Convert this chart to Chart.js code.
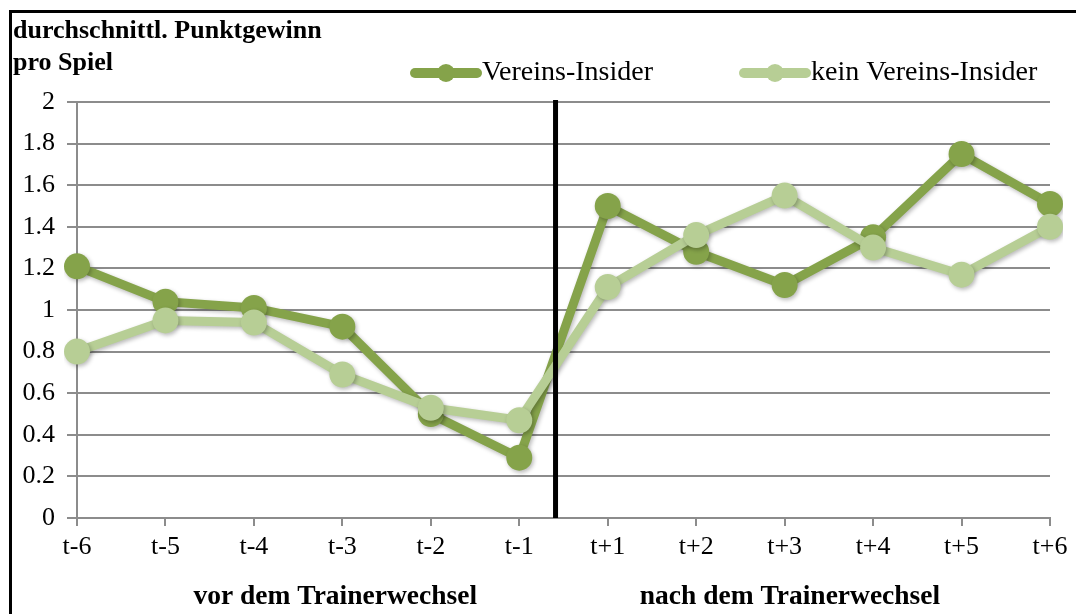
<!DOCTYPE html>
<html>
<head>
<meta charset="utf-8">
<script src="https://cdn.jsdelivr.net/npm/chart.js@4"></script>
<style>
    html, body { margin: 0; padding: 0; background: #fff; overflow: hidden; }
    #frame { position: absolute; left: 9px; top: 10px; width: 1200px; height: 800px;
             border-top: 3px solid #000; border-left: 3px solid #000; }
    #wrap { position: absolute; left: 0; top: 0; width: 1076px; height: 614px; }
</style>
</head>
<body>
<div id="frame"></div>
<div id="wrap"><canvas id="myChart"></canvas></div>
<script>
const categories = ['t-6', 't-5', 't-4', 't-3', 't-2', 't-1', 't+1', 't+2', 't+3', 't+4', 't+5', 't+6'];
const insider = [1.21, 1.04, 1.01, 0.92, 0.50, 0.29, 1.50, 1.28, 1.12, 1.35, 1.75, 1.51];
const nonInsider = [0.80, 0.95, 0.94, 0.69, 0.53, 0.47, 1.11, 1.36, 1.55, 1.30, 1.17, 1.40];
const seriesNames = ['Vereins-Insider', 'kein Vereins-Insider'];
const titleLines = ['durchschnittl. Punktgewinn', 'pro Spiel'];
const groupLabels = ['vor dem Trainerwechsel', 'nach dem Trainerwechsel'];

const DARK = '#85a34a';
const LIGHT = '#b7ce95';
const GRID = '#8c8c8c';
const SERIF = "'Liberation Serif', 'Times New Roman', serif";

// where the divider and the two group captions sit, in category units
const dividerAt = 5.41;
const groupCenters = [2.92, 8.06];

const decor = {
    id: 'decor',
    beforeDatasetsDraw(chart) {
        const ctx = chart.ctx;
        ctx.save();
        ctx.shadowColor = 'rgba(0,0,0,0.28)';
        ctx.shadowBlur = 4;
        ctx.shadowOffsetX = 1.5;
        ctx.shadowOffsetY = 2;
    },
    afterDatasetsDraw(chart) {
        const ctx = chart.ctx;
        ctx.restore();
        const {top, bottom} = chart.chartArea;
        const x = chart.scales.x.getPixelForValue(dividerAt);
        ctx.save();
        ctx.strokeStyle = '#000';
        ctx.lineWidth = 5;
        ctx.beginPath();
        ctx.moveTo(x, top - 2);
        ctx.lineTo(x, bottom);
        ctx.stroke();
        ctx.restore();
    },
    afterDraw(chart) {
        const ctx = chart.ctx;
        ctx.save();
        ctx.fillStyle = '#000';

        // axis title, top left
        ctx.font = 'bold 26px ' + SERIF;
        ctx.textAlign = 'left';
        ctx.textBaseline = 'middle';
        ctx.fillText(titleLines[0], 13, 31);
        ctx.fillText(titleLines[1], 13, 63);

        // legend
        const items = [
            {text: seriesNames[0], color: DARK, x: 411},
            {text: seriesNames[1], color: LIGHT, x: 740}
        ];
        ctx.font = '28px ' + SERIF;
        items.forEach(it => {
            const y = 73;
            ctx.strokeStyle = it.color;
            ctx.lineWidth = 10;
            ctx.lineCap = 'round';
            ctx.beginPath();
            ctx.moveTo(it.x + 4, y);
            ctx.lineTo(it.x + 66, y);
            ctx.stroke();
            ctx.fillStyle = it.color;
            ctx.beginPath();
            ctx.arc(it.x + 35, y, 9, 0, Math.PI * 2);
            ctx.fill();
            ctx.fillStyle = '#000';
            ctx.fillText(it.text, it.x + 71, y);
        });

        // group captions under the x axis
        ctx.font = 'bold 27.5px ' + SERIF;
        ctx.textAlign = 'center';
        groupLabels.forEach((t, i) => {
            ctx.fillText(t, chart.scales.x.getPixelForValue(groupCenters[i]), 597);
        });
        ctx.restore();
    }
};

const chart = new Chart(document.getElementById('myChart'), {
    type: 'line',
    data: {
        labels: categories,
        datasets: [
            {
                label: seriesNames[0],
                data: insider,
                borderColor: DARK,
                backgroundColor: DARK,
                borderWidth: 9,
                pointRadius: 13,
                pointBorderWidth: 0,
                pointBackgroundColor: DARK,
                order: 2
            },
            {
                label: seriesNames[1],
                data: nonInsider,
                borderColor: LIGHT,
                backgroundColor: LIGHT,
                borderWidth: 9,
                pointRadius: 13,
                pointBorderWidth: 0,
                pointBackgroundColor: LIGHT,
                order: 1
            }
        ]
    },
    options: {
        responsive: true,
        maintainAspectRatio: false,
        animation: false,
        events: [],
        layout: {
            padding: {left: 0, right: 26, top: 102, bottom: 0}
        },
        scales: {
            x: {
                offset: false,
                afterFit: s => { s.height = 96; },
                grid: {
                    drawOnChartArea: false,
                    drawTicks: true,
                    tickLength: 8,
                    color: GRID,
                    lineWidth: 2
                },
                border: {color: GRID, width: 2},
                ticks: {
                    color: '#000',
                    padding: 6,
                    maxRotation: 0,
                    autoSkip: false,
                    font: {family: SERIF, size: 26}
                }
            },
            y: {
                min: 0,
                max: 2,
                afterFit: s => { s.width = 77; },
                grid: {
                    color: GRID,
                    lineWidth: 2,
                    drawTicks: true,
                    tickLength: 10
                },
                border: {color: GRID, width: 2},
                ticks: {
                    stepSize: 0.2,
                    color: '#000',
                    padding: 12,
                    font: {family: SERIF, size: 26},
                    callback: v => String(Math.round(v * 10) / 10)
                }
            }
        },
        plugins: {
            legend: {display: false},
            tooltip: {enabled: false}
        }
    },
    plugins: [decor]
});
</script>
</body>
</html>
